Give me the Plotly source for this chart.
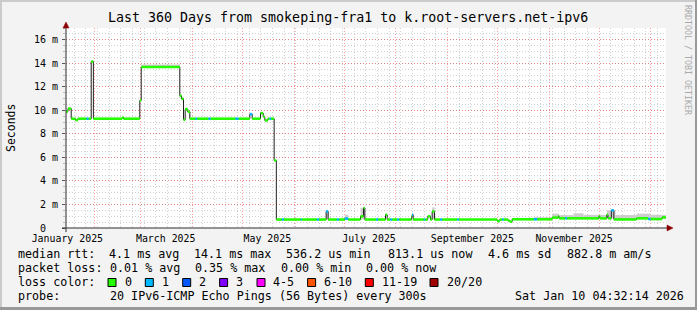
import pandas as pd
import plotly.graph_objects as go

# ---------------- data ----------------
start_time = "2025-01-15 04:32:14"
end_time = "2026-01-10 04:32:14"

seg_start = [
    "2025-01-15 04:32", "2025-01-16 09:00", "2025-01-18 07:30", "2025-01-20 21:00", "2025-01-22 06:30",
    "2025-01-27 12:00", "2025-01-28 16:30", "2025-01-30 07:30", "2025-01-31 15:00", "2025-02-17 21:00",
    "2025-02-18 16:30", "2025-02-28 11:15", "2025-03-01 07:30", "2025-03-24 11:15", "2025-03-25 11:45",
    "2025-03-26 16:30", "2025-03-27 16:30", "2025-03-29 06:30", "2025-03-30 11:45", "2025-04-02 21:20",
    "2025-04-03 21:20", "2025-04-10 16:30", "2025-04-11 21:20", "2025-04-26 21:20", "2025-04-28 16:30",
    "2025-05-05 11:45", "2025-05-06 21:20", "2025-05-11 21:20", "2025-05-13 11:45", "2025-05-14 11:45",
    "2025-05-16 06:30", "2025-05-17 06:30", "2025-05-18 06:30", "2025-05-20 02:00", "2025-05-21 09:30",
    "2025-05-24 16:30", "2025-05-25 21:20", "2025-06-05 02:00", "2025-06-05 16:30", "2025-06-14 16:30",
    "2025-06-15 21:20", "2025-06-20 06:30", "2025-06-21 11:45", "2025-06-26 16:30", "2025-06-27 21:20",
    "2025-07-01 11:45", "2025-07-03 11:45", "2025-07-10 21:20", "2025-07-12 16:30", "2025-07-13 11:45",
    "2025-07-20 06:30", "2025-07-21 11:45", "2025-07-25 21:20", "2025-07-26 21:20", "2025-07-28 16:30",
    "2025-07-29 21:20", "2025-08-01 21:20", "2025-08-03 02:00", "2025-08-10 11:45", "2025-08-10 21:20",
    "2025-08-11 11:45", "2025-08-17 21:20", "2025-08-18 16:30", "2025-08-20 06:30", "2025-08-21 21:20",
    "2025-08-22 21:20", "2025-08-24 06:30", "2025-08-27 16:30", "2025-08-28 21:20", "2025-09-06 21:20",
    "2025-09-07 21:20", "2025-09-30 21:20", "2025-10-02 11:45", "2025-10-03 21:20", "2025-10-04 21:20",
    "2025-10-07 11:45", "2025-10-08 12:00", "2025-10-09 21:20", "2025-10-22 21:20", "2025-10-24 21:20",
    "2025-11-02 21:20", "2025-11-06 11:45", "2025-11-07 00:00", "2025-11-10 16:30", "2025-11-11 21:20",
    "2025-11-30 21:20", "2025-12-01 11:45", "2025-12-05 16:30", "2025-12-06 09:00", "2025-12-08 09:30",
    "2025-12-09 21:20", "2025-12-23 11:45", "2025-12-30 12:00", "2025-12-31 21:20", "2026-01-07 21:20",
]
median_ms = [
    9.90, 10.15, 9.29, 9.17, 9.29,
    9.29, 9.29, 14.15, 9.29, 9.38,
    9.29, 10.84, 13.68, 11.24, 10.98,
    9.20, 10.10, 9.88, 9.29, 9.29,
    9.29, 9.29, 9.29, 9.29, 9.29,
    9.68, 9.29, 9.77, 9.45, 9.14,
    9.29, 9.29, 9.29, 5.74, 0.72,
    0.72, 0.72, 0.72, 0.72, 0.72,
    0.72, 1.41, 0.72, 0.72, 0.72,
    0.80, 0.72, 0.99, 1.70, 0.72,
    0.72, 0.72, 1.13, 0.72, 0.72,
    0.72, 0.72, 0.72, 0.95, 1.13,
    0.72, 0.72, 0.72, 0.99, 0.72,
    1.41, 0.72, 0.72, 0.72, 0.72,
    0.72, 0.59, 0.72, 0.72, 0.72,
    0.62, 0.54, 0.74, 0.74, 0.74,
    0.88, 1.00, 0.82, 0.82, 0.82,
    0.99, 0.82, 1.13, 0.82, 1.50,
    0.73, 0.82, 0.76, 0.76, 0.90,
]
lost_pings = [
    0, 0, 0, 0, 0,
    1, 0, 0, 0, 0,
    0, 0, 0, 0, 0,
    0, 0, 0, 0, 1,
    0, 1, 0, 1, 0,
    1, 0, 0, 0, 0,
    0, 1, 0, 0, 0,
    1, 0, 1, 0, 1,
    0, 1, 0, 1, 0,
    1, 0, 0, 0, 0,
    1, 0, 0, 0, 1,
    0, 1, 0, 0, 1,
    0, 1, 0, 0, 0,
    0, 0, 1, 0, 1,
    0, 0, 0, 1, 0,
    0, 0, 0, 1, 0,
    0, 0, 0, 1, 0,
    0, 0, 0, 0, 1,
    0, 0, 1, 0, 0,
]

smoke_start = ["2025-03-01 07:30", "2025-06-20 06:30", "2025-07-01 11:45", "2025-07-10 21:20",
               "2025-08-22 21:20", "2025-10-22 21:20", "2025-11-02 21:20", "2025-11-07 00:00",
               "2025-11-15 16:30", "2025-11-21 16:30", "2025-12-05 16:30", "2025-12-10 21:20",
               "2025-12-23 11:45", "2025-12-31 21:20"]
smoke_end = ["2025-03-24 11:15", "2025-06-21 11:45", "2025-07-03 11:45", "2025-07-13 11:45",
             "2025-08-24 06:30", "2025-11-02 21:20", "2025-11-07 00:00", "2025-11-15 16:30",
             "2025-11-21 16:30", "2025-12-05 16:30", "2025-12-10 21:20", "2025-12-23 11:45",
             "2025-12-31 21:20", "2026-01-10 04:32"]
smoke_lo_ms = [13.68, 0.72, 0.72, 0.72, 0.72, 0.74, 0.88, 0.82, 0.82, 0.82, 0.82, 0.73, 0.80, 0.76]
smoke_hi_ms = [13.90, 1.41, 1.13, 1.72, 1.75, 0.92, 1.22, 1.10, 1.25, 1.12, 1.50, 1.10, 1.22, 1.12]

loss_labels = ["0", "1", "2", "3", "4-5", "6-10", "11-19", "20/20"]
loss_colors = ["#26ff00", "#00b8ff", "#0059ff", "#7e00ff", "#ff00ff", "#ff5500", "#ff0000", "#a10000"]
loss_upper = [0, 1, 2, 3, 5, 10, 19, 20]

y_tick_vals = [0, 2, 4, 6, 8, 10, 12, 14, 16]
y_tick_text = ["0\u00a0\u00a0", "2 m", "4 m", "6 m", "8 m", "10 m", "12 m", "14 m", "16 m"]
x_label_vals = ["2025-01-16", "2025-03-16", "2025-05-16", "2025-07-16", "2025-09-16", "2025-11-16"]
x_label_text = ["January 2025", "March 2025", "May 2025", "July 2025", "September 2025", "November 2025"]

title_text = "Last 360 Days from smokeping-fra1 to k.root-servers.net-ipv6"
rtt_items = ["median rtt:", "4.1 ms avg", "14.1 ms max", "536.2 us min", "813.1 us now", "4.6 ms sd", "882.8 m am/s"]
loss_items = ["packet loss:", "0.01 % avg", "0.35 % max", "0.00 % min", "0.00 % now"]
probe_text = "20 IPv6-ICMP Echo Pings (56 Bytes) every 300s"
stamp_text = "Sat Jan 10 04:32:14 2026"

# ---------------- geometry helpers ----------------
FW, FH = 697, 310
L, T, PW, PH = 66, 28, 600, 200
B = FH - T - PH
R = FW - L - PW
MONO = "DejaVu Sans Mono"


def px(x):
    return (x - L) / PW


def py(y):
    return (T + PH - y) / PH


fig = go.Figure()

# smoke
s0 = pd.to_datetime(smoke_start)
s1 = pd.to_datetime(smoke_end)
mid = s0 + (s1 - s0) / 2
widths = [(b - a).total_seconds() * 1000 for a, b in zip(s0, s1)]
fig.add_trace(go.Bar(
    x=mid, y=[h - l for h, l in zip(smoke_hi_ms, smoke_lo_ms)], base=smoke_lo_ms,
    width=widths, marker=dict(color="#cdcdcd", line=dict(width=0)),
    xaxis="x", yaxis="y", hoverinfo="skip", showlegend=False))

# median black line
fig.add_trace(go.Scatter(
    x=seg_start + [end_time], y=median_ms + [median_ms[-1]],
    mode="lines", line=dict(color="#202020", width=1, shape="hv"),
    xaxis="x", yaxis="y", hoverinfo="skip", showlegend=False))

# loss coloured bands
seg_end = seg_start[1:] + [end_time]


def loss_class(n):
    for i, u in enumerate(loss_upper):
        if n <= u:
            return i
    return len(loss_upper) - 1


for ci, col in enumerate(loss_colors):
    xs, ys = [], []
    for s, e, v, n in zip(seg_start, seg_end, median_ms, lost_pings):
        if loss_class(n) == ci:
            xs += [s, e, None]
            ys += [v, v, None]
    if xs:
        fig.add_trace(go.Scatter(
            x=xs, y=ys, mode="lines", line=dict(color=col, width=2.6),
            xaxis="x2", yaxis="y", hoverinfo="skip", showlegend=False, connectgaps=False))

red_grid = "rgba(255,0,0,0.38)"
grey_grid = "rgba(140,140,140,0.40)"
gdash = "1px,2px"

fig.update_layout(
    width=FW, height=FH,
    margin=dict(l=L, r=R, t=T, b=B, pad=0),
    paper_bgcolor="#f3f3f3", plot_bgcolor="#ffffff",
    showlegend=False, barmode="overlay",
    font=dict(family=MONO, color="#000000"),
    xaxis=dict(
        type="date", range=[start_time, end_time], automargin=False,
        tick0="2025-01-01", dtick="M1", showticklabels=False, ticks="",
        showgrid=True, gridcolor=red_grid, griddash=gdash, gridwidth=1,
        minor=dict(tick0="2025-01-06", dtick=7 * 86400000, showgrid=True,
                   gridcolor=grey_grid, griddash=gdash, gridwidth=1, ticks=""),
        showline=False, zeroline=False, fixedrange=True,
    ),
    xaxis2=dict(
        type="date", range=[start_time, end_time], matches="x", overlaying="x",
        anchor="y", side="bottom", automargin=False,
        tickmode="array", tickvals=x_label_vals, ticktext=x_label_text,
        ticks="", showgrid=False, showline=False, zeroline=False,
        tickfont=dict(family=MONO, size=9.9, color="#000000"),
        ticklabelstandoff=3,
    ),
    yaxis=dict(
        range=[0, 17], automargin=False,
        tickmode="array", tickvals=y_tick_vals, ticktext=y_tick_text,
        ticks="outside", ticklen=3, tickcolor="#555555", tickwidth=1,
        tickfont=dict(family=MONO, size=10, color="#000000"),
        showgrid=True, gridcolor=red_grid, griddash=gdash, gridwidth=1,
        minor=dict(dtick=0.5, showgrid=True, gridcolor=grey_grid, griddash=gdash,
                   gridwidth=1, ticks="outside", ticklen=2, tickcolor="#bbbbbb"),
        showline=False, zeroline=False, fixedrange=True,
        ticklabelstandoff=2,
    ),
)

shapes = []
axis_col = "#2c2c2c"
arrow_col = "#8b0000"
# axis lines
shapes.append(dict(type="line", xref="paper", yref="paper", x0=px(62), x1=px(668), y0=py(228), y1=py(228),
                   line=dict(color=axis_col, width=1), layer="above"))
shapes.append(dict(type="line", xref="paper", yref="paper", x0=px(66), x1=px(66), y0=py(232), y1=py(27),
                   line=dict(color=axis_col, width=1), layer="above"))
# arrows
shapes.append(dict(type="path", xref="paper", yref="paper",
                   path=f"M {px(667)} {py(225)} L {px(673)} {py(228)} L {px(667)} {py(231)} Z",
                   fillcolor=arrow_col, line=dict(color=arrow_col, width=0.5), layer="above"))
shapes.append(dict(type="path", xref="paper", yref="paper",
                   path=f"M {px(63)} {py(28)} L {px(66)} {py(22)} L {px(69)} {py(28)} Z",
                   fillcolor=arrow_col, line=dict(color=arrow_col, width=0.5), layer="above"))
# frame (3D shade)
shapes.append(dict(type="rect", xref="paper", yref="paper", x0=px(0), x1=px(FW), y0=py(0), y1=py(2),
                   fillcolor="#cbcbcb", line=dict(width=0), layer="above"))
shapes.append(dict(type="rect", xref="paper", yref="paper", x0=px(0), x1=px(2), y0=py(0), y1=py(FH),
                   fillcolor="#cbcbcb", line=dict(width=0), layer="above"))
shapes.append(dict(type="rect", xref="paper", yref="paper", x0=px(0), x1=px(FW), y0=py(FH - 3), y1=py(FH),
                   fillcolor="#999999", line=dict(width=0), layer="above"))
shapes.append(dict(type="rect", xref="paper", yref="paper", x0=px(FW - 2), x1=px(FW), y0=py(0), y1=py(FH),
                   fillcolor="#999999", line=dict(width=0), layer="above"))

annotations = []


def txt(x, y, s, size=11.7, anchor="left", color="#000000", angle=0):
    annotations.append(dict(x=px(x), y=py(y), xref="paper", yref="paper", text=s, showarrow=False,
                            xanchor=anchor, yanchor="middle", textangle=angle,
                            font=dict(family=MONO, size=size, color=color)))


txt(347.5, 18, title_text, size=13.3, anchor="center")
txt(11, 128, "Seconds", size=11.5, anchor="center", angle=-90)
txt(688, 60, "RRDTOOL / TOBI OETIKER", size=8.3, anchor="center", color="#aaaaaa", angle=90)

rtt_x = [16, 107, 192.4, 284.4, 385.8, 485.8, 565.3]
for x, s in zip(rtt_x, rtt_items):
    txt(x, 254.3, s)
loss_x = [16, 107.5, 193.3, 279, 364.4]
for x, s in zip(loss_x, loss_items):
    txt(x, 268.3, s)
txt(16, 282.3, "loss color:")
box_x = [108, 145.3, 182.7, 219.6, 257, 307.6, 365.3, 430]
lab_x = [123.1, 160, 197, 234, 271, 322, 380, 445.3]
for bx, lx, lab, col in zip(box_x, lab_x, loss_labels, loss_colors):
    shapes.append(dict(type="rect", xref="paper", yref="paper", x0=px(bx), x1=px(bx + 8),
                       y0=py(278.5), y1=py(286.5), fillcolor=col,
                       line=dict(color="#000000", width=1), layer="above"))
    txt(lx, 282.3, lab)
txt(16, 296, "probe:")
txt(107.5, 296, probe_text)
txt(513, 296, stamp_text)

fig.update_layout(shapes=shapes, annotations=annotations)
fig.write_html("out.html")
